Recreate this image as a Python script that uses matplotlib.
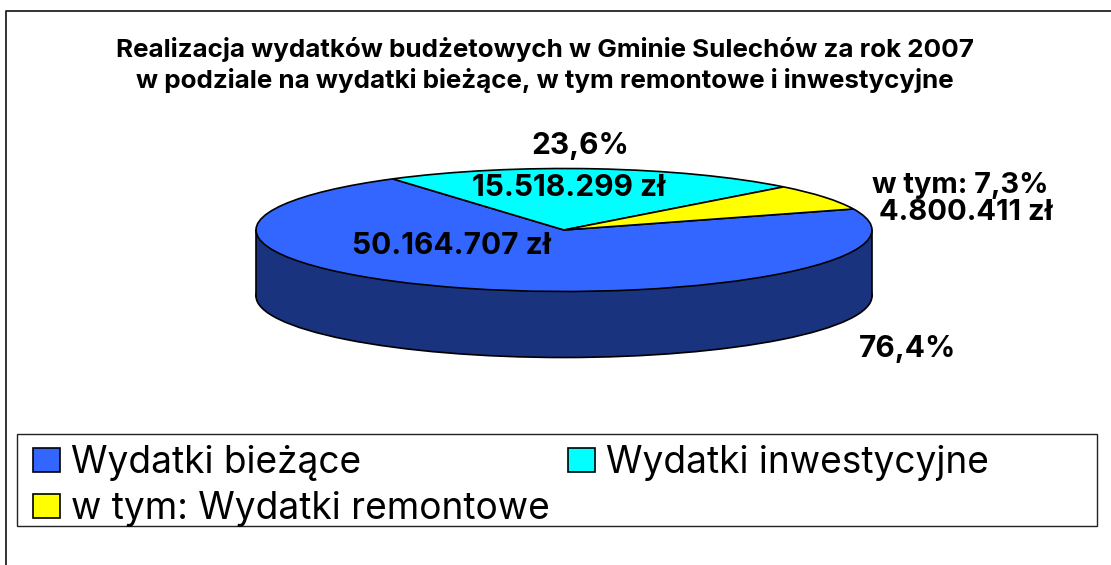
import matplotlib
matplotlib.use("Agg")
import matplotlib.pyplot as plt
from matplotlib.lines import Line2D
from matplotlib.patches import Ellipse, Rectangle

W, H = 1111, 565

kategorie = ["Wydatki bieżące", "Wydatki inwestycyjne", "w tym: Wydatki remontowe"]
wartosci = [50164707, 15518299, 4800411]
kolory = ["#3366FF", "#00FFFF", "#FFFF00"]
tytul = ("Realizacja wydatków budżetowych w Gminie Sulechów za rok 2007\n"
         "w podziale na wydatki bieżące, w tym remontowe i inwestycyjne")

plt.rcParams['font.family'] = ['Inter', 'Liberation Sans', 'DejaVu Sans']

# pie center and radii in pixels, the unit circle gets squashed to an ellipse
cx, cy, rx, ry = 564, 230, 308, 61.5
glebokosc = 66 / ry

fig = plt.figure(figsize=(W / 100, H / 100), dpi=100)
ax = fig.add_axes([0, 0, 1, 1])

wedges, _ = ax.pie(wartosci, colors=kolory, startangle=20, counterclock=False,
                   wedgeprops={'edgecolor': 'black', 'linewidth': 1.2, 'zorder': 3})
ax.set_aspect('auto')
ax.set_xlim(-cx / rx, (W - cx) / rx)
ax.set_ylim((cy - H) / ry, cy / ry)
ax.axis('off')

# side wall of the cake
ax.add_patch(Ellipse((0, -glebokosc), 2, 2, facecolor='#1A337F', edgecolor='black', linewidth=1.2, zorder=1))
ax.add_patch(Rectangle((-1, -glebokosc), 2, glebokosc, facecolor='#1A337F', edgecolor='none', zorder=1.5))
ax.plot([-1, -1], [-glebokosc, 0], color='black', lw=1.2, zorder=2)
ax.plot([1, 1], [-glebokosc, 0], color='black', lw=1.2, zorder=2)


def px_text(x, y, s, size, **kw):
    fig.text(x / W, 1 - y / H, s, fontsize=size, fontweight='bold', ha='center', va='center', **kw)


px_text(545, 65, tytul, 18.7, linespacing=1.27)
px_text(580, 146, "23,6%", 21.5)
px_text(569, 188, "15.518.299 zł", 21.5)
px_text(451, 246, "50.164.707 zł", 21.5)
px_text(960, 185, "w tym: 7,3%", 20.8)
px_text(966, 213, "4.800.411 zł", 21)
px_text(908, 349, "76,4%", 21.5)

# outer frame, only left and top edges are visible
fig.add_artist(Line2D([6 / W, 6 / W, 1], [0, 1 - 11 / H, 1 - 11 / H], color='#222222', lw=1.3))

# legend box is wider than its entries, so it is drawn separately
fig.add_artist(Rectangle((17 / W, 1 - 526 / H), 1080 / W, 92 / H, transform=fig.transFigure,
                         facecolor='white', edgecolor='#222222', linewidth=1.0))
uchwyty = [wedges[0], wedges[2], wedges[1]]
etykiety = [kategorie[0], kategorie[2], kategorie[1]]
leg = fig.legend(uchwyty, etykiety, ncols=2, loc='upper left', frameon=False,
                 bbox_to_anchor=(17 / W, 1 - 429 / H), borderaxespad=0,
                 fontsize=26.7, handlelength=0.72, handleheight=0.6, handletextpad=0.3,
                 columnspacing=0.5, labelspacing=0.28, borderpad=0.43)
for h in leg.legend_handles:
    h.set_linewidth(1.2)

fig.savefig("out.png", dpi=100)
